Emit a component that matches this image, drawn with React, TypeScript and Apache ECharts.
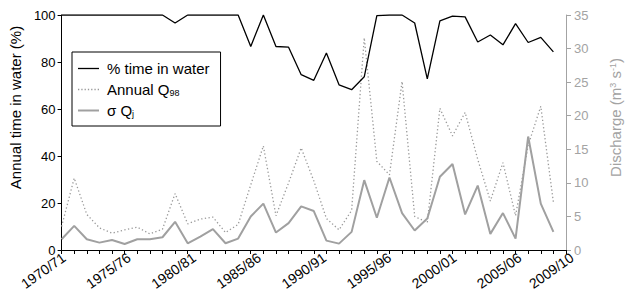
import React, { useEffect, useRef } from "react";
import * as echarts from "echarts";

const years: string[] = [];
for (let y = 1970; y <= 2010; y++) {
  years.push(`${y}/${String((y + 1) % 100).padStart(2, "0")}`);
}

const pctTimeInWater = [
  100, 100, 100, 100, 100, 100, 100, 100, 100, 96.6,
  100, 100, 100, 100, 100, 86.6, 100, 86.6, 86.3, 74.6,
  72.2, 83.8, 70.3, 68.2, 73.7, 99.7, 100, 100, 96.6, 72.8,
  97.5, 99.5, 99.2, 88.5, 91.5, 87.3, 96.3, 88.3, 90.5, 84.3,
];

const annualQ98 = [
  3.5, 10.7, 5.3, 3.3, 2.5, 3.0, 3.4, 2.4, 3.1, 8.4,
  3.9, 4.6, 4.9, 2.6, 3.8, 9.7, 15.5, 5.1, 10.0, 15.2,
  10.3, 4.7, 3.0, 5.9, 31.6, 13.2, 11.2, 25.1, 5.0, 4.1,
  21.1, 17.0, 20.5, 13.5, 7.3, 13.0, 5.1, 15.6, 21.4, 7.1,
];

const sigmaQj = [
  1.6, 3.6, 1.6, 1.1, 1.5, 0.9, 1.6, 1.6, 1.9, 4.2,
  1.0, 2.0, 3.1, 1.0, 1.7, 5.0, 6.9, 2.6, 4.0, 6.5,
  5.8, 1.4, 0.95, 2.7, 10.4, 4.8, 10.8, 5.5, 2.9, 4.7,
  10.9, 12.8, 5.3, 9.6, 2.4, 5.5, 1.7, 16.9, 6.9, 2.7,
];

const labelIndices = [0, 5, 10, 15, 20, 25, 30, 35, 39];

function dottedIcon(): string {
  let d = "path://";
  for (let x = 0; x < 20; x += 3.3) {
    d += `M${x.toFixed(2)},0h1.3v1.3h-1.3z`;
  }
  return d;
}

export default function App() {
  const ref = useRef<HTMLDivElement>(null);
  useEffect(() => {
    const chart = echarts.init(ref.current!, null, { renderer: "svg" });
    const font = "'Liberation Sans', Arial, sans-serif";
    const gray = "#a3a3a3";
    chart.setOption({
      animation: false,
      textStyle: { fontFamily: font },
      grid: [
        { left: 57, right: 53, top: 15, bottom: 44 },
        { left: 64, right: 46, top: 15, bottom: 44 },
      ],
      legend: {
        orient: "vertical",
        left: 72,
        top: 52,
        backgroundColor: "#fff",
        borderColor: "#000",
        borderWidth: 1,
        borderRadius: 0,
        padding: [9, 11, 8, 6],
        itemWidth: 21,
        itemHeight: 14,
        itemGap: 6,
        itemStyle: { borderWidth: 0 },
        data: [
          { name: "% time in water", icon: "path://M0,0H21V1.3H0Z" },
          { name: "Annual Q98", icon: dottedIcon() },
          { name: "σ Qj", icon: "path://M0,0H21V2H0Z" },
        ],
        formatter: (name: string) =>
          name === "Annual Q98"
            ? "Annual Q{sub|98}"
            : name === "σ Qj"
            ? "σ Q{sub|j}"
            : name,
        textStyle: {
          fontFamily: font,
          fontSize: 15,
          color: "#000",
          padding: [0, 0, 0, 3],
          rich: {
            sub: { fontFamily: font, fontSize: 9, verticalAlign: "bottom", color: "#000" },
          },
        },
      },
      xAxis: [
        {
          type: "category",
          gridIndex: 0,
          data: years,
          boundaryGap: false,
          axisLine: { lineStyle: { color: "#000", width: 1 } },
          axisTick: { interval: 0, length: 4, lineStyle: { color: "#000" } },
          axisLabel: { show: false },
          splitLine: { show: false },
        },
        {
          type: "category",
          gridIndex: 0,
          position: "top",
          data: years,
          boundaryGap: false,
          axisLine: { lineStyle: { color: "#000", width: 1 } },
          axisTick: { show: false },
          axisLabel: { show: false },
        },
        {
          type: "category",
          gridIndex: 1,
          data: years,
          boundaryGap: false,
          axisLine: { show: false },
          axisTick: { show: false },
          axisLabel: {
            interval: (i: number) => labelIndices.includes(i),
            rotate: 35,
            fontSize: 14,
            color: "#000",
            margin: 6,
            fontFamily: font,
          },
        },
      ],
      yAxis: [
        {
          type: "value",
          gridIndex: 0,
          position: "left",
          min: 0,
          max: 100,
          interval: 20,
          name: "Annual time in water (%)",
          nameLocation: "middle",
          nameRotate: 90,
          nameGap: 33,
          nameTextStyle: { fontSize: 15, color: "#000", fontFamily: font, padding: [0, 0, 0, 50] },
          axisLine: { show: true, lineStyle: { color: "#000" } },
          axisTick: { show: true, length: 4, lineStyle: { color: "#000" } },
          axisLabel: { fontSize: 13, color: "#000", margin: 6, fontFamily: font },
          splitLine: { show: false },
        },
        {
          type: "value",
          gridIndex: 0,
          position: "right",
          min: 0,
          max: 35,
          interval: 5,
          name: "Discharge (m{sup|3} s{sup|-1})",
          nameLocation: "middle",
          nameRotate: 90,
          nameGap: 42,
          nameTextStyle: {
            fontSize: 15,
            color: gray,
            fontFamily: font,
            padding: [0, 0, 0, 30],
            rich: { sup: { fontSize: 9, verticalAlign: "top", color: gray, fontFamily: font } },
          },
          axisLine: { show: true, lineStyle: { color: gray } },
          axisTick: { show: true, length: 5, lineStyle: { color: gray } },
          axisLabel: { fontSize: 13, color: gray, margin: 8, fontFamily: font },
          splitLine: { show: false },
        },
        { type: "value", gridIndex: 1, show: false },
      ],
      series: [
        {
          name: "% time in water",
          type: "line",
          xAxisIndex: 0,
          yAxisIndex: 0,
          data: pctTimeInWater,
          symbol: "none",
          lineStyle: { color: "#000", width: 1.3 },
          itemStyle: { color: "#000" },
          z: 5,
        },
        {
          name: "Annual Q98",
          type: "line",
          xAxisIndex: 0,
          yAxisIndex: 1,
          data: annualQ98,
          symbol: "none",
          lineStyle: { color: "#999", width: 1.3, type: [1.3, 2.4] },
          itemStyle: { color: "#999" },
          z: 3,
        },
        {
          name: "σ Qj",
          type: "line",
          xAxisIndex: 0,
          yAxisIndex: 1,
          data: sigmaQj,
          symbol: "none",
          lineStyle: { color: "#a0a0a0", width: 2 },
          itemStyle: { color: "#a0a0a0" },
          z: 4,
        },
      ],
    });
    return () => chart.dispose();
  }, []);
  return (
    <div
      ref={ref}
      style={{ position: "absolute", left: 0, top: 0, width: 631, height: 294, background: "#fff" }}
    />
  );
}
